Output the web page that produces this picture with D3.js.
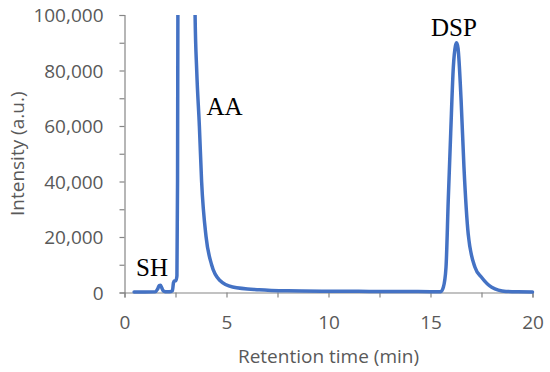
<!DOCTYPE html>
<html>
<head>
<meta charset="utf-8">
<script src="https://cdn.jsdelivr.net/npm/d3@7/dist/d3.min.js"></script>
<style>
html,body{margin:0;padding:0;background:#fff;}
svg{display:block;}
</style>
</head>
<body>
<svg id="chart" width="550" height="372"></svg>
<script>
// Data
const times = [0.47, 1.0, 1.5, 1.62, 1.7, 1.76, 1.82, 1.9, 2.0, 2.2, 2.35, 2.4, 2.45, 2.52, 2.57, 2.6, 2.63, 2.7, 3.0, 3.35, 3.42, 3.46, 3.54, 3.67, 3.78, 4.0, 4.27, 4.68, 5.3, 6.6, 8.0, 10.0, 12.0, 14.0, 15.0, 15.5, 15.63, 15.76, 15.87, 15.99, 16.12, 16.22, 16.28, 16.35, 16.5, 16.64, 16.85, 17.18, 17.5, 18.0, 18.7, 19.3, 20.0];
const intensity = [200, 200, 250, 1200, 2500, 2600, 1800, 600, 300, 250, 600, 3500, 4200, 4300, 6000, 40000, 150000, 300000, 400000, 250000, 130000, 100000, 80000, 60000, 40000, 20000, 10000, 4300, 2000, 1000, 600, 450, 400, 350, 300, 300, 1900, 9100, 33200, 57400, 81300, 88800, 90000, 88000, 69300, 45200, 21000, 9100, 5500, 1900, 400, 250, 200];
const xTicks = [0, 5, 10, 15, 20];
const xMinorTicks = [0, 2.5, 5, 7.5, 10, 12.5, 15, 17.5, 20];
const yTicks = [0, 20000, 40000, 60000, 80000, 100000];
const yMinorTicks = [0, 10000, 20000, 30000, 40000, 50000, 60000, 70000, 80000, 90000, 100000];
const peakLabels = [
  {name: "SH", t: 1.35, v: 9200},
  {name: "AA", t: 4.9, v: 67000},
  {name: "DSP", t: 16.15, v: 95500}
];

const svg = d3.select("#chart");
const m = {left: 124.5, right: 532.5, top: 15, bottom: 292.5};
const x = d3.scaleLinear().domain([0, 20]).range([m.left, m.right]);
const y = d3.scaleLinear().domain([0, 100000]).range([m.bottom, m.top]);

const axisColor = "#868686";
const textColor = "#595959";
const font = "'Open Sans', sans-serif";

// clip
svg.append("defs").append("clipPath").attr("id", "clip")
  .append("rect").attr("x", m.left).attr("y", m.top).attr("width", m.right - m.left + 10).attr("height", m.bottom - m.top + 10);

// x axis
const gx = svg.append("g").attr("transform", `translate(0,${m.bottom})`);
gx.call(d3.axisBottom(x).tickValues(xMinorTicks).tickSize(5).tickFormat(""));
gx.select(".domain").attr("stroke", axisColor).attr("stroke-width", 1.2);
gx.selectAll(".tick line").attr("stroke", axisColor).attr("stroke-width", 1.2);
const gxl = svg.append("g").attr("transform", `translate(0,${m.bottom})`);
gxl.call(d3.axisBottom(x).tickValues(xTicks).tickSize(0).tickPadding(0).tickFormat(d3.format("d")));
gxl.select(".domain").remove();
gxl.selectAll("text").attr("font-family", font).attr("font-size", "19px").attr("fill", textColor).attr("dy", null).attr("y", 36);

// y axis
const gy = svg.append("g").attr("transform", `translate(${m.left},0)`);
gy.call(d3.axisLeft(y).tickValues(yMinorTicks).tickSize(5).tickFormat(""));
gy.select(".domain").attr("stroke", axisColor).attr("stroke-width", 1.2);
gy.selectAll(".tick line").attr("stroke", axisColor).attr("stroke-width", 1.2);
const gyl = svg.append("g").attr("transform", `translate(${m.left},0)`);
gyl.call(d3.axisLeft(y).tickValues(yTicks).tickSize(0).tickPadding(0).tickFormat(d3.format(",")));
gyl.select(".domain").remove();
gyl.selectAll("text").attr("font-family", font).attr("font-size", "19px").attr("fill", textColor).attr("x", -21).attr("dy", "0.35em");

// axis titles
svg.append("text").attr("x", (m.left + m.right) / 2).attr("y", 363)
  .attr("text-anchor", "middle").attr("font-family", font).attr("font-size", "19px").attr("fill", textColor)
  .text("Retention time (min)");
svg.append("text").attr("transform", `translate(24,${(m.top + m.bottom) / 2}) rotate(-90)`)
  .attr("text-anchor", "middle").attr("font-family", font).attr("font-size", "19px").attr("fill", textColor)
  .text("Intensity (a.u.)");

// line
const data = times.map((t, i) => ({t, v: intensity[i]}));
const line = d3.line().x(d => x(d.t)).y(d => y(d.v)).curve(d3.curveMonotoneX);
svg.append("path").datum(data).attr("clip-path", "url(#clip)")
  .attr("d", line).attr("fill", "none").attr("stroke", "#4472C4").attr("stroke-width", 3.5)
  .attr("stroke-linejoin", "round").attr("stroke-linecap", "round");

// peak labels
svg.selectAll(".peak").data(peakLabels).enter().append("text")
  .attr("x", d => x(d.t)).attr("y", d => y(d.v))
  .attr("text-anchor", "middle").attr("dy", "0.35em")
  .attr("font-family", "'Liberation Serif', serif").attr("font-size", "25px").attr("fill", "#000")
  .text(d => d.name);
</script>
</body>
</html>
